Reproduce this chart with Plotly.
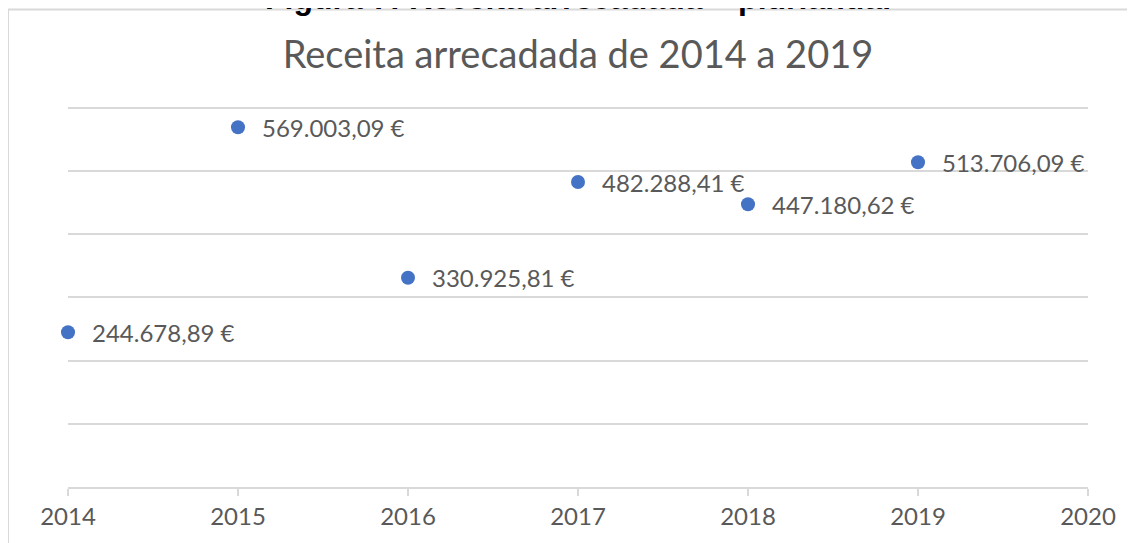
"""Receita arrecadada 2014-2019 scatter chart."""

import plotly.graph_objects as go

years = [2014, 2015, 2016, 2017, 2018, 2019]
receita = [244678.89, 569003.09, 330925.81, 482288.41, 447180.62, 513706.09]

x_ticks = [2014, 2015, 2016, 2017, 2018, 2019, 2020]

chart_title = "Receita arrecadada de 2014 a 2019"
caption = "Figura 7: Receita arrecadada \u2013 plurianual"

GREY_TEXT = "#595959"
GREY_LINE = "#d9d9d9"
BLUE = "#4472C4"
FONT = "Lato"


def euro(v: float) -> str:
    """Portuguese style currency, e.g. 569.003,09 €."""
    s = f"{v:,.2f}"
    s = s.replace(",", "X").replace(".", ",").replace("X", ".")
    return f"{s} \u20ac"


fig = go.Figure(
    go.Scatter(
        x=years,
        y=receita,
        mode="markers",
        marker=dict(color=BLUE, size=14),
        cliponaxis=False,
        hoverinfo="skip",
    )
)

# data labels to the right of each point
for x, y in zip(years, receita):
    fig.add_annotation(
        x=x, y=y, text=euro(y), showarrow=False,
        xanchor="left", yanchor="middle", xshift=22,
        font=dict(family=FONT, size=24, color=GREY_TEXT),
    )

# caption of the figure, cut off at the top of the page
fig.add_annotation(
    xref="paper", yref="paper", x=0.5, y=1.197, yanchor="bottom",
    text=f"<b>{caption}</b>", showarrow=False,
    font=dict(family="Liberation Sans", size=32, color="black"),
)

# chart frame (top and left edges visible)
fig.add_shape(type="line", xref="paper", yref="paper",
              x0=-0.0588, x1=1.046, y0=1.218, y1=1.218,
              line=dict(color=GREY_LINE, width=2))
fig.add_shape(type="line", xref="paper", yref="paper",
              x0=-0.0588, x1=-0.0588, y0=-0.143, y1=1.218,
              line=dict(color=GREY_LINE, width=2))

# the page body adds an 8px offset, so the figure is 8px smaller
fig.update_layout(
    width=1127,
    height=535,
    margin=dict(l=60, r=47, t=87, b=56),
    paper_bgcolor="white",
    plot_bgcolor="white",
    showlegend=False,
    title=dict(
        text=chart_title, x=0.5, xref="paper", xanchor="center",
        y=0.912, yanchor="middle",
        font=dict(family=FONT, size=38, color=GREY_TEXT),
    ),
    font=dict(family=FONT, color=GREY_TEXT),
)

fig.update_xaxes(
    range=[2014, 2020],
    tickvals=x_ticks,
    ticktext=[str(t) for t in x_ticks],
    showgrid=False,
    zeroline=False,
    showline=True,
    linecolor=GREY_LINE,
    linewidth=2,
    ticks="outside",
    ticklen=7,
    tickwidth=2,
    tickcolor=GREY_LINE,
    tickfont=dict(family=FONT, size=24, color=GREY_TEXT),
)
fig.update_yaxes(
    range=[0, 620000],
    tickvals=[100000, 200000, 300000, 400000, 500000, 600000],
    showticklabels=False,
    showgrid=True,
    gridcolor=GREY_LINE,
    gridwidth=2,
    zeroline=False,
)

fig.write_html("out.html")
